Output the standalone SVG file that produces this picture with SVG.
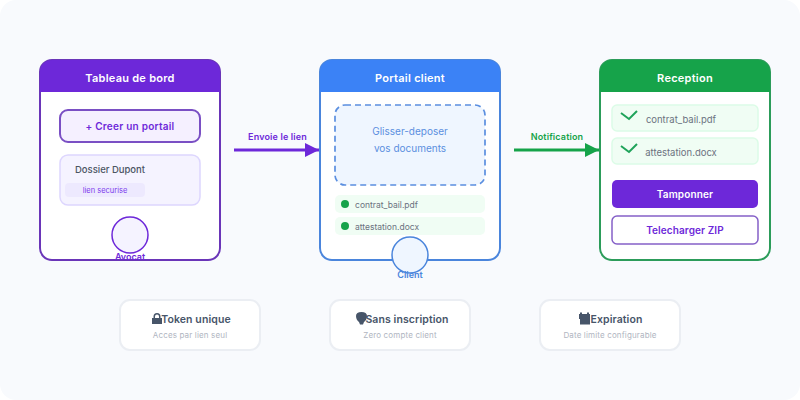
<svg xmlns="http://www.w3.org/2000/svg" width="800" height="400" viewBox="0 0 800 400">
<style>
text{font-family:Inter,"Noto Sans","Liberation Sans",sans-serif;text-anchor:middle}
.h{font-size:11px;font-weight:600;fill:#fff;letter-spacing:.25px}
.card{fill:#fff;stroke-width:2}
.f{font-size:8.500px;fill:#6b7280}
.f2{font-size:9.500px;fill:#6b7280}
.ft{font-size:10.500px;font-weight:600;fill:#475569;letter-spacing:.1px}
.fs{font-size:8px;fill:#b0b5c1;letter-spacing:.15px}
.fc{fill:#fff;stroke:#ebeef3;stroke-width:2}
.ck{fill:none;stroke:#1fa35a;stroke-width:2}
.lb{font-size:9px;font-weight:600;letter-spacing:.15px}
</style>
<defs>
<marker id="ap" markerUnits="userSpaceOnUse" markerWidth="16" markerHeight="16" refX="14" refY="8" orient="auto"><path d="M0 1L14 8L0 15Z" fill="#6d28d9"/></marker>
<marker id="ag" markerUnits="userSpaceOnUse" markerWidth="16" markerHeight="16" refX="14" refY="8" orient="auto"><path d="M0 1L14 8L0 15Z" fill="#16a34a"/></marker>
</defs>
<rect width="800" height="400" rx="16" fill="#f8fafd"/>
<g id="avocat">
<rect class="card" x="40" y="60" width="180" height="200" rx="12" stroke="#6a35b8"/>
<path d="M40 92V72a12 12 0 0 1 12-12H208a12 12 0 0 1 12 12V92Z" fill="#6d28d9"/>
<text class="h" x="130" y="82">Tableau de bord</text>
<rect x="60" y="110" width="140" height="32" rx="8" fill="#f5f0ff" stroke="#7a4fc4" stroke-width="2"/>
<text x="130" y="130" font-size="10" font-weight="600" fill="#6d28d9" letter-spacing=".25">+ Creer un portail</text>
<rect x="60" y="155" width="140" height="50" rx="8" fill="#f5f3ff" stroke="#ddd6fe" stroke-width="1.500"/>
<text x="110" y="173" font-size="9.500" font-weight="500" fill="#4b5563">Dossier Dupont</text>
<rect x="65" y="183" width="80" height="14" rx="4" fill="#ede9fe"/>
<text x="105" y="193" font-size="7.500" fill="#7c3aed">lien securise</text>
<circle cx="130" cy="235" r="18" fill="#f5f3ff" stroke="#6d28d9" stroke-width="1.500"/>
<text x="130" y="260" font-size="9" font-weight="600" fill="#6d28d9">Avocat</text>
</g>
<g id="portail">
<rect class="card" x="320" y="60" width="180" height="200" rx="12" stroke="#4a85dc"/>
<path d="M320 92V72a12 12 0 0 1 12-12H488a12 12 0 0 1 12 12V92Z" fill="#3b82f6"/>
<text class="h" x="410" y="82">Portail client</text>
<rect x="335" y="105" width="150" height="80" rx="10" fill="#eff6ff" stroke="#5b8fe0" stroke-width="1.700" stroke-dasharray="6 4"/>
<text x="410" y="135" font-size="10" fill="#5b8fe0">Glisser-deposer</text>
<text x="410" y="152" font-size="10" fill="#5b8fe0">vos documents</text>
<rect x="335" y="195" width="150" height="18" rx="5" fill="#f0fdf4"/>
<circle cx="345" cy="204" r="4" fill="#16a34a"/>
<text class="f" x="386.500" y="208">contrat_bail.pdf</text>
<rect x="335" y="217" width="150" height="18" rx="5" fill="#f0fdf4"/>
<circle cx="345" cy="226" r="4" fill="#16a34a"/>
<text class="f" x="387" y="230">attestation.docx</text>
<circle cx="410" cy="255" r="18" fill="#eff6ff" stroke="#4a85dc" stroke-width="1.500"/>
<text x="410" y="278" font-size="9" font-weight="600" fill="#4a85dc">Client</text>
</g>
<g id="reception">
<rect class="card" x="600" y="60" width="170" height="200" rx="12" stroke="#2c9c5a"/>
<path d="M600 92V72a12 12 0 0 1 12-12H758a12 12 0 0 1 12 12V92Z" fill="#16a34a"/>
<text class="h" x="685" y="82">Reception</text>
<rect x="612" y="105" width="146" height="26" rx="5" fill="#f0fdf4" stroke="#dcfce7" stroke-width="1.500"/>
<path class="ck" d="M621 113L629 119L637 111"/>
<text class="f2" x="681" y="123">contrat_bail.pdf</text>
<rect x="612" y="138" width="146" height="26" rx="5" fill="#f0fdf4" stroke="#dcfce7" stroke-width="1.500"/>
<path class="ck" d="M621 146L629 152L637 144"/>
<text class="f2" x="681" y="156">attestation.docx</text>
<rect x="612" y="180" width="146" height="28" rx="5" fill="#6d28d9"/>
<text x="685" y="198" font-size="10" font-weight="600" fill="#fff" letter-spacing=".15">Tamponner</text>
<rect x="612" y="216" width="146" height="28" rx="5" fill="#fff" stroke="#8560c8" stroke-width="1.500"/>
<text x="685" y="234" font-size="10" font-weight="600" fill="#6d28d9" letter-spacing=".1">Telecharger ZIP</text>
</g>
<g id="connectors">
<line x1="234" y1="150" x2="319" y2="150" stroke="#6d28d9" stroke-width="3" marker-end="url(#ap)"/>
<text class="lb" x="277.500" y="140" fill="#6d28d9">Envoie le lien</text>
<line x1="514" y1="150" x2="599" y2="150" stroke="#16a34a" stroke-width="3" marker-end="url(#ag)"/>
<text class="lb" x="557" y="140" fill="#16a34a">Notification</text>
</g>
<g id="token">
<rect class="fc" x="120" y="300" width="140" height="50" rx="10"/>
<path d="M152 318h1.500v-1.500a3.500 3.500 0 0 1 7 0v1.500h1.500v6h-10Z M155 318h4v-1.500a2 2 0 0 0-4 0Z" fill="#475569" fill-rule="evenodd"/>
<text class="ft" x="196" y="323">Token unique</text>
<text class="fs" x="190" y="338">Acces par lien seul</text>
</g>
<g id="inscription">
<rect class="fc" x="330" y="300" width="140" height="50" rx="10"/>
<path d="M356 316C356 313.500 358 312 361.500 312C365 312 367 313.500 367 316C367 319 365.500 321 364 322L363 324.500H360L359 322C357.500 321 356 319 356 316Z" fill="#475569"/>
<text class="ft" x="407" y="323">Sans inscription</text>
<text class="fs" x="400" y="338">Zero compte client</text>
</g>
<g id="expiration">
<rect class="fc" x="540" y="300" width="140" height="50" rx="10"/>
<path d="M580 312.500h2v1.500h5v-1.500h2V314h1V324.500H580V319h-1V314h1Z" fill="#475569"/>
<text class="ft" x="616.500" y="323">Expiration</text>
<text class="fs" x="610" y="338">Date limite configurable</text>
</g>
</svg>
